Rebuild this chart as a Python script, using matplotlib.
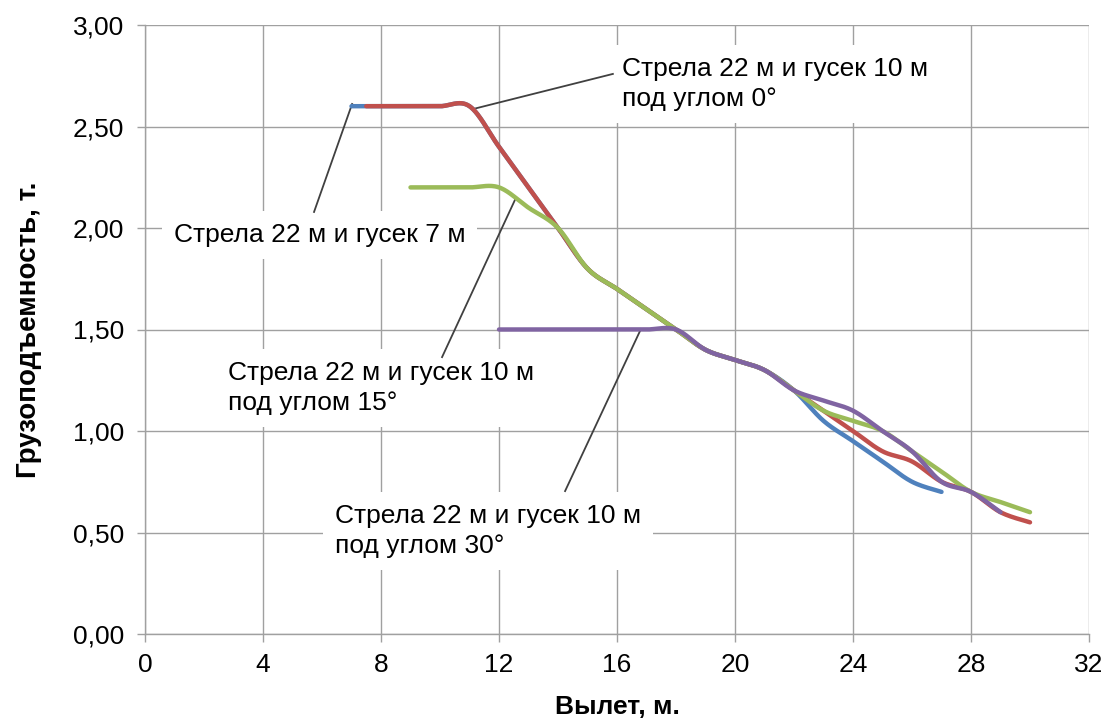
import numpy as np
import matplotlib
matplotlib.use("Agg")
import matplotlib.pyplot as plt
from matplotlib.ticker import FuncFormatter

plt.rcParams['font.family'] = ['Liberation Sans', 'DejaVu Sans']

# ---- data -------------------------------------------------------------
x_7m = [7, 8, 9, 10, 11, 12, 13, 14, 15, 16, 17, 18, 19, 20, 21, 22, 23, 24, 25, 26, 27]
y_7m = [2.6, 2.6, 2.6, 2.6, 2.6, 2.4, 2.2, 2.0, 1.8, 1.7, 1.6, 1.5, 1.4, 1.35, 1.3, 1.2,
        1.05, 0.95, 0.85, 0.75, 0.7]

x_0 = [7.5, 8, 9, 10, 11, 12, 13, 14, 15, 16, 17, 18, 19, 20, 21, 22, 23, 24, 25, 26, 27,
       28, 29, 30]
y_0 = [2.6, 2.6, 2.6, 2.6, 2.6, 2.4, 2.2, 2.0, 1.8, 1.7, 1.6, 1.5, 1.4, 1.35, 1.3, 1.2,
       1.1, 1.0, 0.9, 0.85, 0.75, 0.7, 0.6, 0.55]

x_15 = [9, 10, 11, 12, 13, 14, 15, 16, 17, 18, 19, 20, 21, 22, 23, 24, 25, 26, 27, 28, 29, 30]
y_15 = [2.2, 2.2, 2.2, 2.2, 2.1, 2.0, 1.8, 1.7, 1.6, 1.5, 1.4, 1.35, 1.3, 1.2, 1.1, 1.05,
        1.0, 0.9, 0.8, 0.7, 0.65, 0.6]

x_30 = [12, 13, 14, 15, 16, 17, 18, 19, 20, 21, 22, 23, 24, 25, 26, 27, 28, 29]
y_30 = [1.5, 1.5, 1.5, 1.5, 1.5, 1.5, 1.5, 1.4, 1.35, 1.3, 1.2, 1.15, 1.1, 1.0, 0.9, 0.75,
        0.7, 0.6]

x_ticks = [0, 4, 8, 12, 16, 20, 24, 28, 32]
y_ticks = [0.0, 0.5, 1.0, 1.5, 2.0, 2.5, 3.0]

label_7m = "Стрела 22 м и гусек 7 м"
label_0 = "Стрела 22 м и гусек 10 м\nпод углом 0°"
label_15 = "Стрела 22 м и гусек 10 м\nпод углом 15°"
label_30 = "Стрела 22 м и гусек 10 м\nпод углом 30°"
x_title = "Вылет, м."
y_title = "Грузоподъемность, т."


def smooth(x, y, n=30):
    """Excel-like smoothed line (Catmull-Rom Bezier)."""
    p = np.column_stack([np.asarray(x, float), np.asarray(y, float)])
    m = len(p)
    t = np.linspace(0, 1, n)[:, None]
    out = []
    for i in range(m - 1):
        p0 = p[max(i - 1, 0)]
        p1 = p[i]
        p2 = p[i + 1]
        p3 = p[min(i + 2, m - 1)]
        c1 = p1 + (p2 - p0) / 6.0
        c2 = p2 - (p3 - p1) / 6.0
        seg = ((1 - t) ** 3) * p1 + 3 * ((1 - t) ** 2) * t * c1 + 3 * (1 - t) * t ** 2 * c2 + t ** 3 * p2
        out.append(seg if i == 0 else seg[1:])
    s = np.vstack(out)
    return s[:, 0], s[:, 1]


fig = plt.figure(figsize=(11.17, 7.18), dpi=100)
ax = fig.add_axes([145 / 1117, 1 - 634 / 718, (1089 - 145) / 1117, (634 - 25) / 718])

grid_c = '#A0A0A0'
ax.set_xlim(0, 32)
ax.set_ylim(0, 3)
ax.set_xticks(x_ticks)
ax.set_yticks(y_ticks)
ax.yaxis.set_major_formatter(FuncFormatter(lambda v, p: f"{v:.2f}".replace('.', ',')))
ax.grid(True, color=grid_c, lw=1.0, zorder=0)
ax.set_axisbelow(True)
for s in ['top', 'right']:
    ax.spines[s].set_visible(False)
for s in ['left', 'bottom']:
    ax.spines[s].set_color(grid_c)
    ax.spines[s].set_linewidth(1.0)
ax.tick_params(axis='both', colors=grid_c, labelcolor='black', labelsize=19,
               length=6, width=1.0, direction='out')
ax.tick_params(axis='y', pad=9)
ax.tick_params(axis='x', pad=8)

colors = ['#4F81BD', '#C0504D', '#9BBB59', '#8064A2']
for (xs, ys), c in zip([(x_7m, y_7m), (x_0, y_0), (x_15, y_15), (x_30, y_30)], colors):
    sx, sy = smooth(xs, ys)
    ax.plot(sx, sy, color=c, lw=3.2, solid_capstyle='round', zorder=5, clip_on=False)

# leader lines (data coords)
leader_c = '#404040'
leaders = [
    ((11.12, 2.586), (15.86, 2.759)),
    ((7.02, 2.611), (5.73, 2.079)),
    ((12.54, 2.138), (10.07, 1.364)),
    ((16.81, 1.502), (14.24, 0.704)),
]
for (a, b) in leaders:
    ax.plot([a[0], b[0]], [a[1], b[1]], color=leader_c, lw=1.3, zorder=4)

box = dict(boxstyle='square,pad=0.45', fc='white', ec='none')
tk = dict(fontsize=19, zorder=3, bbox=box, linespacing=1.35, color='black')
ax.text(16.17, 2.71, label_0, ha='left', va='center', **tk)
ax.text(5.92, 1.966, label_7m, ha='center', va='center', **tk)
ax.text(2.80, 1.212, label_15, ha='left', va='center', **tk)
ax.text(6.45, 0.507, label_30, ha='left', va='center', **tk)

ax.set_xlabel(x_title, fontsize=19, fontweight='bold', labelpad=13)
ax.set_ylabel(y_title, fontsize=20, fontweight='bold', labelpad=22)

fig.savefig('out.png', dpi=100)
